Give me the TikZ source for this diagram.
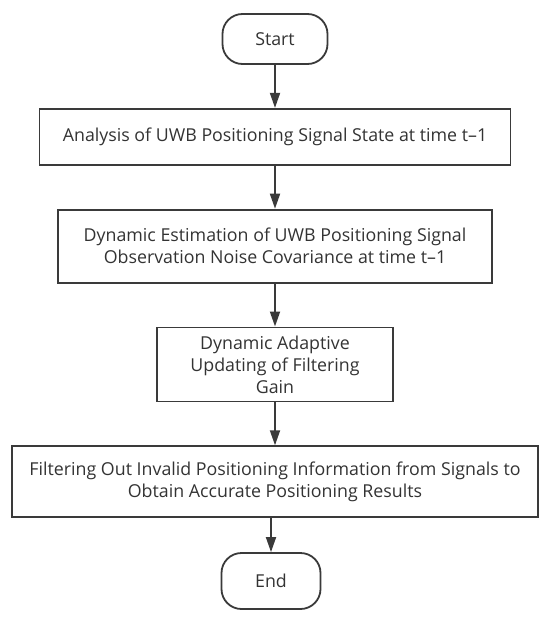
\documentclass[tikz,border=0pt]{standalone}
\usepackage{fontspec}
\setmainfont{Open Sans}
\usetikzlibrary{arrows.meta,positioning}
\definecolor{linegray}{HTML}{3A3A3A}
\definecolor{textgray}{HTML}{333333}

\begin{document}
\begin{tikzpicture}[
  x=1pt,y=1pt,
  font=\fontsize{17.8}{22}\selectfont,
  text=textgray,
  >={Triangle[width=10pt,length=15pt]},
  term/.style={draw=linegray,line width=1.8pt,rounded corners=20pt,minimum width=105pt,minimum height=50pt,inner sep=0pt},
  proc/.style={draw=linegray,line width=1.8pt,align=center,inner sep=0pt},
  flow/.style={->,line width=1.8pt,draw=linegray},
  node distance=43pt,
]
\useasboundingbox (0,0) rectangle (550,-618);
% ---- main column (top to bottom) ----
\node[term] (start) at (275,-39) {Start};
\node[proc,below=of start,minimum width=471pt,minimum height=56pt] (state) {Analysis of UWB Positioning Signal State at time t--1};
\node[proc,below=of state,minimum width=434pt,minimum height=73pt] (noise) {Dynamic Estimation of UWB Positioning Signal\\Observation Noise Covariance at time t--1};
\node[proc,below=of noise,minimum width=236pt,minimum height=74pt] (gain) {Dynamic Adaptive\\Updating of Filtering\\Gain};
\node[proc,below=of gain,minimum width=526pt,minimum height=71pt] (filter) {Filtering Out Invalid Positioning Information from Signals to\\Obtain Accurate Positioning Results};
\node[term,below=34pt of filter,xshift=-4pt,minimum width=99pt,minimum height=56pt] (end) {End};
% ---- connectors ----
\draw[flow] (start) -- (state);
\draw[flow] (state) -- (noise);
\draw[flow] (noise) -- (gain);
\draw[flow] (gain) -- (filter);
\draw[flow] (filter.south -| end) -- (end);
\end{tikzpicture}
\end{document}
